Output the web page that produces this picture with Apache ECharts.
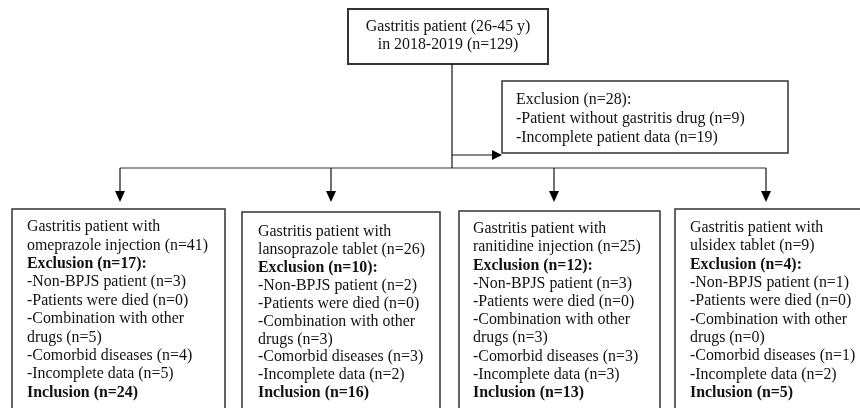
<!DOCTYPE html>
<html>
<head>
<meta charset="utf-8">
<script src="https://cdn.jsdelivr.net/npm/echarts@6/dist/echarts.min.js"></script>
<style>html,body{margin:0;padding:0;background:#fff}#chart{width:860px;height:408px}</style>
</head>
<body>
<div id="chart"></div>
<script>
// ---- content ----
const topLines = ['Gastritis patient (26-45 y)', 'in 2018-2019 (n=129)'];
const exclusionLines = ['Exclusion (n=28):', '-Patient without gastritis drug (n=9)', '-Incomplete patient data (n=19)'];
const drugs = ['omeprazole injection', 'lansoprazole tablet', 'ranitidine injection', 'ulsidex tablet'];
const totals = [41, 26, 25, 9];
const excluded = [17, 10, 12, 4];
const nonBpjs = [3, 2, 3, 1];
const died = [0, 0, 0, 0];
const combination = [5, 3, 3, 0];
const comorbid = [4, 3, 3, 1];
const incomplete = [5, 2, 3, 2];
const included = [24, 16, 13, 5];

// ---- layout ----
const FONT = '"Liberation Serif", "Times New Roman", serif';
const FS = 15.9;
const boxX = [12, 242, 459, 675];
const boxR = [225, 440, 660, 866];
const boxTop = [209, 212, 211, 209];
const textX = [27, 258, 473, 690];
const firstY = [227, 232, 229, 228];
const lineH = [18.4, 17.9, 18.2, 18.3];
const arrowX = [120, 331, 554, 766];

const els = [];
function rect(x, y, w, h, lw, color) {
  els.push({type: 'rect', shape: {x: x, y: y, width: w, height: h},
    style: {fill: '#fff', stroke: color || '#222', lineWidth: lw || 1.5}, z: 1});
}
function line(x1, y1, x2, y2, color) {
  els.push({type: 'line', shape: {x1: x1, y1: y1, x2: x2, y2: y2},
    style: {stroke: color || '#111', lineWidth: 1.2}, z: 2});
}
function tri(points) {
  els.push({type: 'polygon', shape: {points: points}, style: {fill: '#000'}, z: 3});
}
function txt(s, x, y, bold, align) {
  els.push({type: 'text', x: x, y: y, z: 4,
    style: {text: s, font: (bold ? 'bold ' : '') + FS + 'px ' + FONT, fill: '#111',
      textAlign: align || 'left', textVerticalAlign: 'middle'}});
}

// top box
rect(348, 9, 200, 55, 2, '#333');
txt(topLines[0], 448, 27, false, 'center');
txt(topLines[1], 448, 45, false, 'center');
// trunk
line(452, 64, 452, 168);
// exclusion arrow + box
line(452, 155, 492, 155);
tri([[492, 150], [502, 155], [492, 160]]);
rect(502, 81, 286, 72, 1.5, '#333');
exclusionLines.forEach(function (s, i) { txt(s, 516, 100 + i * 19, false); });
// horizontal distributor
line(arrowX[0], 168, arrowX[3], 168, '#333');
arrowX.forEach(function (x) {
  line(x, 168, x, 192);
  tri([[x - 5, 191], [x + 5, 191], [x, 202]]);
});
// group boxes
drugs.forEach(function (d, i) {
  rect(boxX[i], boxTop[i], boxR[i] - boxX[i], 420 - boxTop[i], 1.5, '#333');
  const lines = [
    ['Gastritis patient with', false],
    [d + ' (n=' + totals[i] + ')', false],
    ['Exclusion (n=' + excluded[i] + '):', true],
    ['-Non-BPJS patient (n=' + nonBpjs[i] + ')', false],
    ['-Patients were died (n=' + died[i] + ')', false],
    ['-Combination with other', false],
    ['drugs (n=' + combination[i] + ')', false],
    ['-Comorbid diseases (n=' + comorbid[i] + ')', false],
    ['-Incomplete data (n=' + incomplete[i] + ')', false],
    ['Inclusion (n=' + included[i] + ')', true]
  ];
  lines.forEach(function (l, k) { txt(l[0], textX[i], firstY[i] + k * lineH[i], l[1]); });
});

const chart = echarts.init(document.getElementById('chart'), null, {renderer: 'canvas'});
chart.setOption({animation: false, backgroundColor: '#fff', graphic: {elements: els}});
</script>
</body>
</html>
